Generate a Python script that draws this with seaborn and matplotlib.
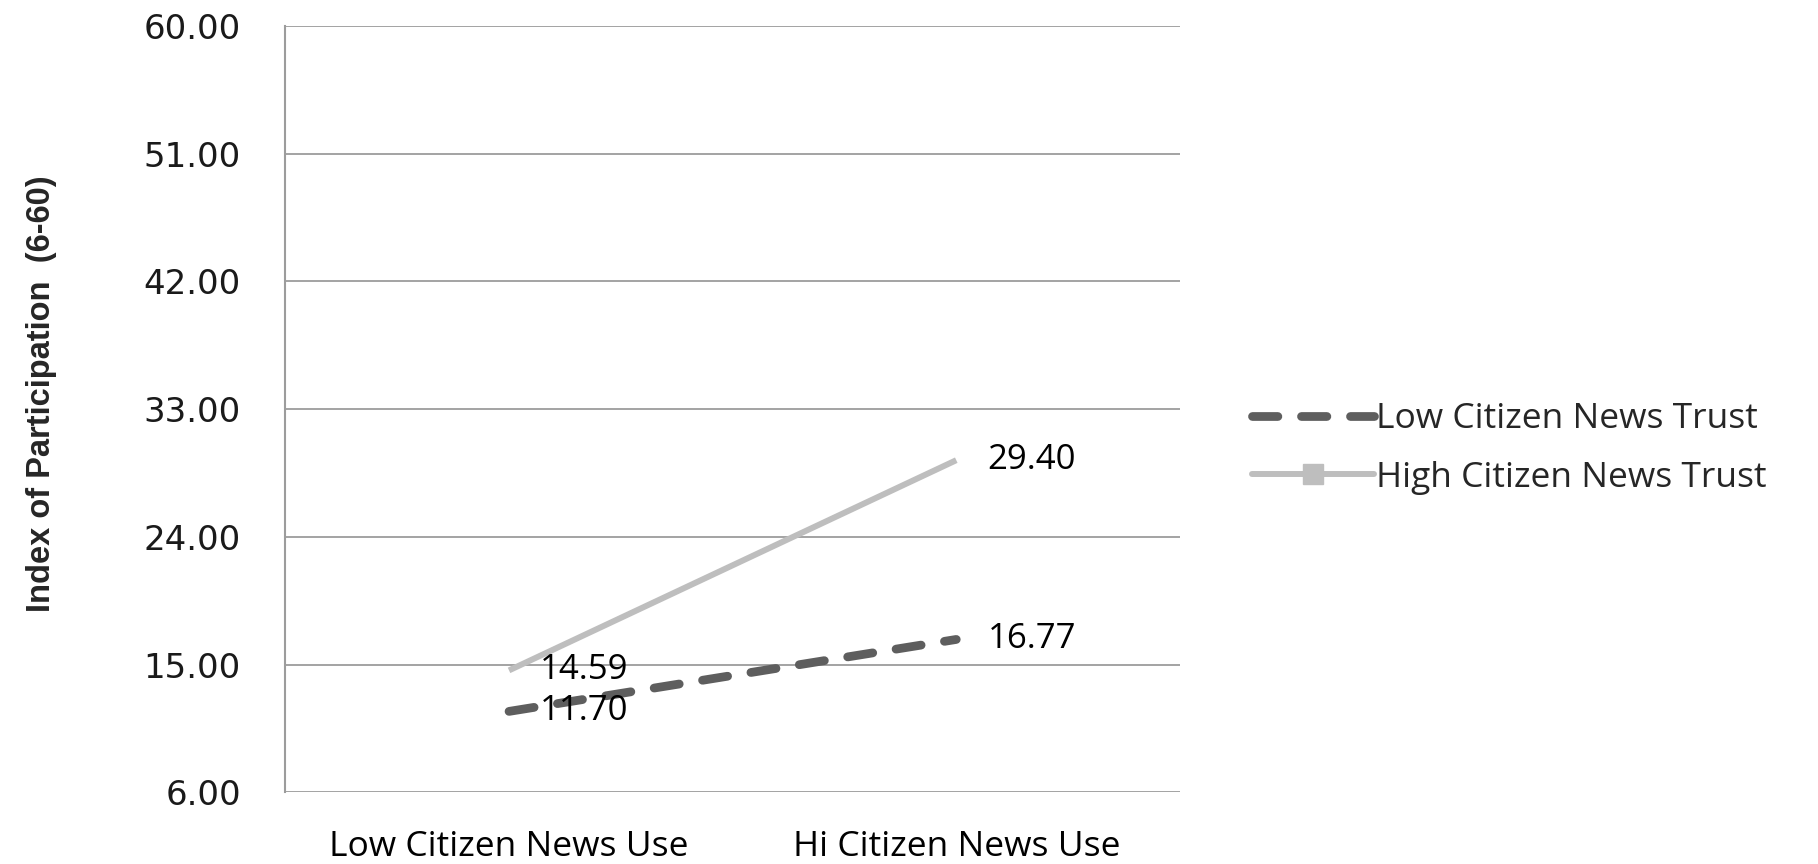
import matplotlib
matplotlib.use("Agg")
import matplotlib.pyplot as plt
import pandas as pd
import seaborn as sns
from matplotlib.lines import Line2D

# Data
categories = ["Low Citizen News Use", "Hi Citizen News Use"]
series_names = ["Low Citizen News Trust", "High Citizen News Trust"]
low_trust = [11.70, 16.77]
high_trust = [14.59, 29.40]
y_ticks = [6, 15, 24, 33, 42, 51, 60]

COLORS = {"Low Citizen News Trust": "#5e5e5e", "High Citizen News Trust": "#bebebe"}
DASH = (2.9, 2.7)
LABEL_FONT = ["Open Sans", "DejaVu Sans"]


def main():
    df = pd.DataFrame({
        "Use": categories * 2,
        "Trust": [series_names[0]] * 2 + [series_names[1]] * 2,
        "Value": low_trust + high_trust,
    })
    df["x"] = df["Use"].map({c: i for i, c in enumerate(categories)})

    sns.set_theme(style="white")
    fig = plt.figure(figsize=(18.18, 8.64), dpi=100)
    ax = fig.add_axes([0.157, 0.083, 0.492, 0.887])

    # Low trust: thick dashed dark line
    sub = df[df["Trust"] == series_names[0]]
    sns.lineplot(data=sub, x="x", y="Value", color=COLORS[series_names[0]],
                 linewidth=6.3, ax=ax, legend=False)
    ln = ax.lines[-1]
    ln.set_dashes(DASH)
    ln.set_dash_capstyle("round")

    # High trust: light solid line
    sub = df[df["Trust"] == series_names[1]]
    sns.lineplot(data=sub, x="x", y="Value", color=COLORS[series_names[1]],
                 linewidth=4.3, ax=ax, legend=False)
    ax.lines[-1].set_solid_capstyle("butt")

    # data labels
    for vals in (low_trust, high_trust):
        for i, v in enumerate(vals):
            ax.annotate(f"{v:.2f}", (i, v), xytext=(22.5, 0), textcoords="offset points",
                        ha="left", va="center", fontsize=25, family=LABEL_FONT,
                        color="black")

    ax.set_xlim(-0.5, 1.5)
    ax.set_ylim(6, 60)
    ax.set_yticks(y_ticks)
    ax.set_yticklabels([f"{t:.2f}" for t in y_ticks], fontsize=24.5,
                       family="DejaVu Sans", color="#1a1a1a")
    ax.set_xticks(range(len(categories)))
    ax.set_xticklabels(categories, fontsize=25.5, family=LABEL_FONT, color="black")
    ax.tick_params(axis="y", length=0, pad=32)
    ax.tick_params(axis="x", length=0, pad=27)
    ax.yaxis.grid(True, color="#9c9c9c", linewidth=1.3)
    ax.set_axisbelow(True)
    for side in ("top", "right", "bottom"):
        ax.spines[side].set_visible(False)
    ax.spines["left"].set_color("#9c9c9c")
    ax.spines["left"].set_linewidth(1.5)
    ax.set_xlabel("")
    ax.set_ylabel("Index of Participation  (6-60)", fontsize=23.5,
                  family="Liberation Sans", weight="bold")
    ax.yaxis.set_label_coords(-0.255, 0.52)

    handles = [
        Line2D([0], [0], color=COLORS[series_names[0]], linewidth=6.3,
               dashes=DASH, dash_capstyle="round"),
        Line2D([0], [0], color=COLORS[series_names[1]], linewidth=4.3,
               marker="s", markersize=15, markerfacecolor=COLORS[series_names[1]],
               markeredgecolor=COLORS[series_names[1]]),
    ]
    fig.legend(handles, series_names, loc="center left",
               bbox_to_anchor=(0.679, 0.481), frameon=False, borderpad=0,
               prop={"family": LABEL_FONT, "size": 25.5}, handlelength=3.45,
               handletextpad=0.06, labelspacing=0.69)

    fig.savefig("out.png", dpi=100)


if __name__ == "__main__":
    main()
